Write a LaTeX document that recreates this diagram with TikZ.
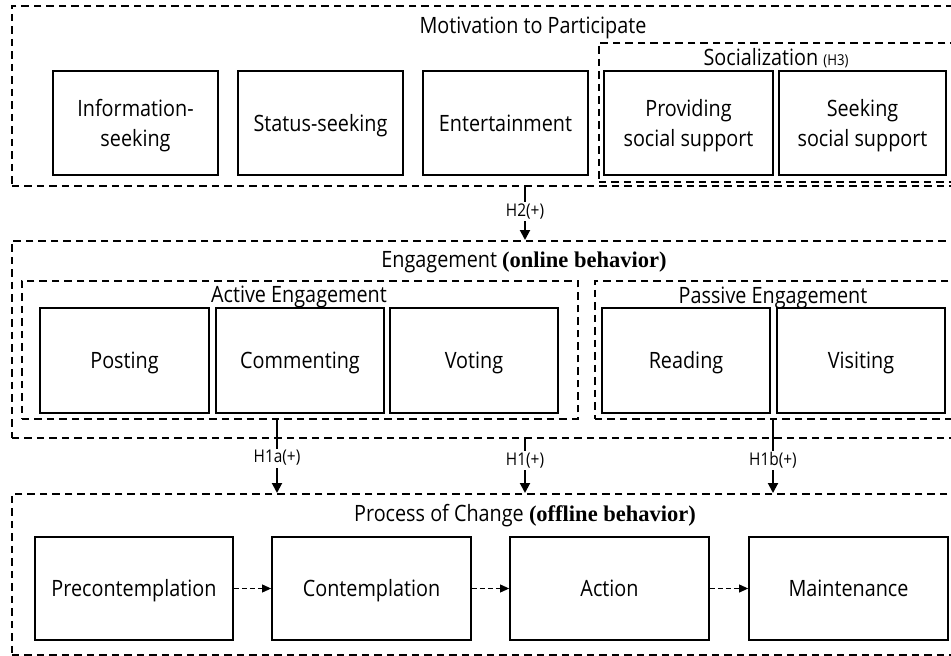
\documentclass[tikz,border=0pt]{standalone}
\usepackage{fontspec}
\setmainfont{Open Sans}[FakeStretch=0.88]
\newfontfamily\tnr{Liberation Serif}
\usetikzlibrary{arrows.meta}

\begin{document}
\begin{tikzpicture}[x=1pt,y=-1pt,semithick,
  frame/.style={draw,line width=1.5pt,dash pattern=on 7.5pt off 5pt,anchor=north west,inner sep=0pt},
  box/.style={draw,line width=1.8pt,align=center,inner sep=0pt,text height=16pt,text depth=0pt,
    font=\fontsize{22.5}{30}\selectfont},
  title/.style={inner sep=1pt,text height=16pt,text depth=0pt,font=\fontsize{22.5}{26}\selectfont},
  hlab/.style={fill=white,inner sep=1.5pt,text height=12.5pt,text depth=3.5pt,font=\fontsize{17.5}{19}\selectfont},
  arr/.style={line width=2pt,-{Triangle[length=10pt,width=10pt]}},
  flow/.style={line width=1pt,dash pattern=on 5pt off 3pt,-{Triangle[length=9pt,width=8pt]}}]
\useasboundingbox (0,0) rectangle (951,656);
\clip (0,0) rectangle (951,656);
% frames
\node[frame,minimum width=956,minimum height=180] (motiv) at (11,5) {};
\node[frame,minimum width=360,minimum height=139] (social) at (598,42) {};
\node[frame,minimum width=956,minimum height=197] (engage) at (11,240) {};
\node[frame,minimum width=556,minimum height=138] (active) at (21,280) {};
\node[frame,minimum width=364,minimum height=138] (passive) at (594,280) {};
\node[frame,minimum width=956,minimum height=161] (process) at (11,493) {};
% titles
\node[title] (motivt) at (533,25) {Motivation to Participate};
\node[title] (socialt) at (776,57) {Socialization {\fontsize{15}{15}\selectfont(H3)}};
\node[title] (engaget) at (524,259.5) {Engagement {\tnr\bfseries(online behavior)}};
\node[title] (activet) at (299,294.5) {Active Engagement};
\node[title] (passivet) at (773,295) {Passive Engagement};
\node[title] (processt) at (525,513) {Process of Change {\tnr\bfseries(offline behavior)}};
% motivation
\node[box,text height=46pt,minimum width=165,minimum height=104] (info) at (135.5,123) {Information-\\seeking};
\node[box,minimum width=165,minimum height=104] (status) at (320.5,123) {Status-seeking};
\node[box,minimum width=165,minimum height=104] (enter) at (505.5,123) {Entertainment};
\node[box,text height=46pt,minimum width=169,minimum height=104] (provide) at (688.5,123) {Providing\\social support};
\node[box,text height=46pt,minimum width=167,minimum height=104] (seek) at (862.5,123) {Seeking\\social support};
% engagement
\node[box,minimum width=169,minimum height=105] (post) at (124.5,360.5) {Posting};
\node[box,minimum width=168,minimum height=105] (comment) at (300,360.5) {Commenting};
\node[box,minimum width=168,minimum height=105] (vote) at (474,360.5) {Voting};
\node[box,minimum width=168,minimum height=105] (read) at (686,360.5) {Reading};
\node[box,minimum width=168,minimum height=105] (visit) at (861,360.5) {Visiting};
% process of change
\node[box,minimum width=198,minimum height=103] (precon) at (134,588.5) {Precontemplation};
\node[box,minimum width=199,minimum height=103] (contem) at (371.5,588.5) {Contemplation};
\node[box,minimum width=199,minimum height=103] (action) at (609.5,588.5) {Action};
\node[box,minimum width=199,minimum height=103] (maint) at (848.5,588.5) {Maintenance};
\draw[flow] (precon) -- (contem);
\draw[flow] (contem) -- (action);
\draw[flow] (action) -- (maint);
% hypotheses
\coordinate (h2) at (525,0);
\coordinate (h1a) at (277,0);
\coordinate (h1) at (525,0);
\coordinate (h1b) at (773,0);
\draw[arr] (motiv.south -| h2) -- node[hlab,pos=0.47]{H2(+)} (engage.north -| h2);
\draw[arr] (active.south -| h1a) -- node[hlab,pos=0.53]{H1a(+)} (process.north -| h1a);
\draw[arr] (engage.south -| h1) -- node[hlab,pos=0.41]{H1(+)} (process.north -| h1);
\draw[arr] (passive.south -| h1b) -- node[hlab,pos=0.56]{H1b(+)} (process.north -| h1b);
\end{tikzpicture}
\end{document}
